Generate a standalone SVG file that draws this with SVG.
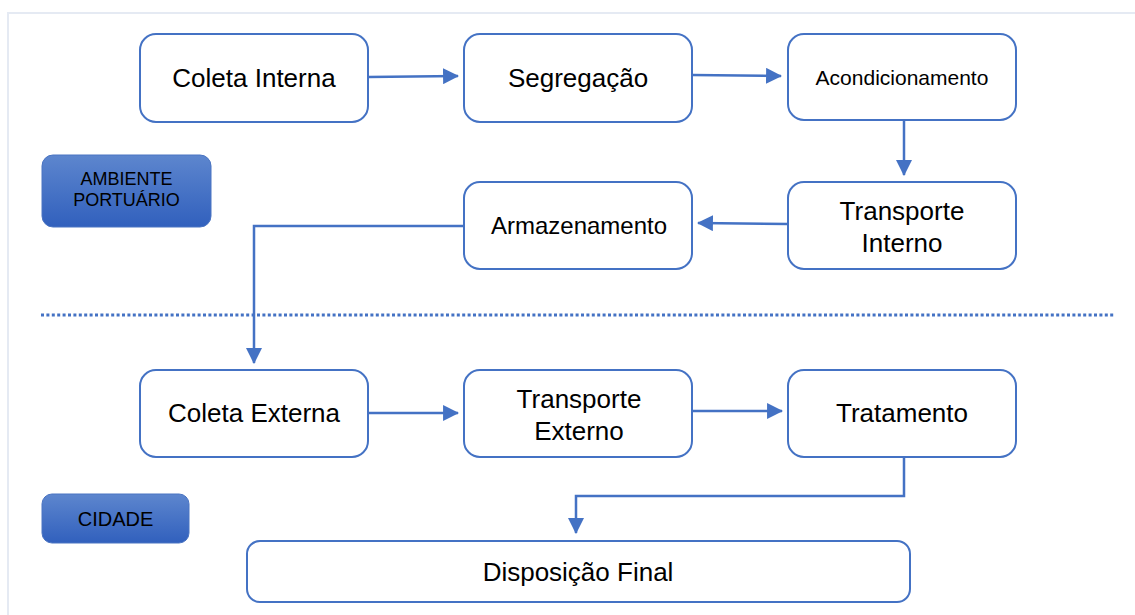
<svg xmlns="http://www.w3.org/2000/svg" width="1135" height="615" viewBox="0 0 1135 615">
<defs>
<linearGradient id="badgeGrad" x1="0" y1="0" x2="0" y2="1">
<stop offset="0" stop-color="#5D86CE"/>
<stop offset="1" stop-color="#3160BD"/>
</linearGradient>
<marker id="arrow" markerUnits="userSpaceOnUse" markerWidth="16" markerHeight="16" viewBox="0 0 15 15" refX="14" refY="7.5" orient="auto">
<path d="M0,0 L15,7.5 L0,15 Z" fill="#4472C4"/>
</marker>
</defs>
<style>
.box{fill:#FFFFFF;stroke:#4472C4;stroke-width:2}
.badge{fill:url(#badgeGrad);stroke:#4A74C2;stroke-width:1}
.lbl{font-family:"Liberation Sans",Arial,sans-serif;fill:#000000;text-anchor:middle}
.conn{fill:none;stroke:#4472C4;stroke-width:2.5}
</style>
<rect width="1135" height="615" fill="#FFFFFF"/>
<path d="M8,615 V13 H1135" fill="none" stroke="#E5EAF3" stroke-width="2"/>
<line x1="41" y1="315" x2="1115" y2="315" stroke="#4472C4" stroke-width="3" stroke-dasharray="3 2.4"/>

<g id="node-coleta-interna"><rect class="box" x="140" y="34" width="228" height="88" rx="16"/><text class="lbl" x="254" y="87" font-size="26">Coleta Interna</text></g>
<g id="node-segregacao"><rect class="box" x="464" y="34" width="228" height="88" rx="16"/><text class="lbl" x="578" y="87" font-size="26">Segregação</text></g>
<g id="node-acondicionamento"><rect class="box" x="788" y="34" width="228" height="86" rx="16"/><text class="lbl" x="902" y="85" font-size="21">Acondicionamento</text></g>
<g id="node-transporte-interno"><rect class="box" x="788" y="182" width="228" height="87" rx="16"/><text class="lbl" x="902" y="220" font-size="26">Transporte</text><text class="lbl" x="902" y="252" font-size="26">Interno</text></g>
<g id="node-armazenamento"><rect class="box" x="464" y="182" width="228" height="87" rx="16"/><text class="lbl" x="579" y="234" font-size="24">Armazenamento</text></g>
<g id="node-ambiente-portuario"><rect class="badge" x="42" y="155" width="169" height="72" rx="11"/><text class="lbl" x="126.5" y="185" font-size="18">AMBIENTE</text><text class="lbl" x="126.5" y="206" font-size="18">PORTUÁRIO</text></g>
<g id="node-coleta-externa"><rect class="box" x="140" y="370" width="228" height="87" rx="16"/><text class="lbl" x="254" y="422" font-size="26">Coleta Externa</text></g>
<g id="node-transporte-externo"><rect class="box" x="464" y="370" width="228" height="87" rx="16"/><text class="lbl" x="579" y="408" font-size="26">Transporte</text><text class="lbl" x="579" y="440" font-size="26">Externo</text></g>
<g id="node-tratamento"><rect class="box" x="788" y="370" width="228" height="87" rx="16"/><text class="lbl" x="902" y="422" font-size="26">Tratamento</text></g>
<g id="node-cidade"><rect class="badge" x="42" y="494" width="147" height="49" rx="10"/><text class="lbl" x="115.5" y="526" font-size="20">CIDADE</text></g>
<g id="node-disposicao-final"><rect class="box" x="247" y="541" width="663" height="61" rx="13"/><text class="lbl" x="578" y="581" font-size="26">Disposição Final</text></g>

<g id="connectors">
<path class="conn" d="M368,77 L458,76" marker-end="url(#arrow)"/>
<path class="conn" d="M692,75 L781,76" marker-end="url(#arrow)"/>
<path class="conn" d="M904,120 V175" marker-end="url(#arrow)"/>
<path class="conn" d="M788,224 L698,223" marker-end="url(#arrow)"/>
<path class="conn" d="M464,226 H254 V363" marker-end="url(#arrow)"/>
<path class="conn" d="M368,413 H458" marker-end="url(#arrow)"/>
<path class="conn" d="M692,411 H782" marker-end="url(#arrow)"/>
<path class="conn" d="M904,457 V496 H576 V533" marker-end="url(#arrow)"/>
</g>
</svg>
